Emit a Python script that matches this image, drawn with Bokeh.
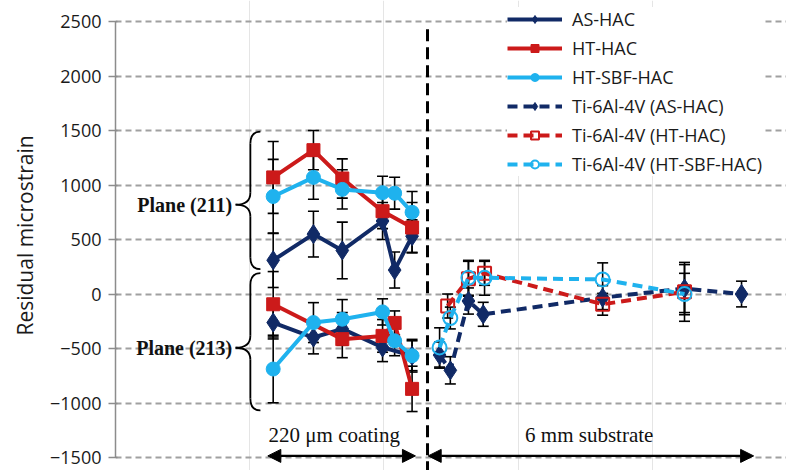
from bokeh.plotting import figure
from bokeh.models import (Range1d, FixedTicker, Whisker, ColumnDataSource, TeeHead,
                          Legend, LegendItem, Arrow, NormalHead, Label)
from bokeh.embed import file_html
from bokeh.resources import INLINE

NAVY = "#112a66"
RED = "#cc1a1a"
SKY = "#1fb2ee"

# ---- coating (plane 211) -------------------------------------------------
as211_x = [23.5, 29.5, 33.8, 39.8, 41.6, 44.2]
as211_y = [310, 550, 400, 670, 220, 530]
as211_e = [250, 210, 260, 170, 165, 150]

ht211_x = [23.5, 29.5, 33.8, 39.8, 44.2]
ht211_y = [1070, 1320, 1060, 760, 610]
ht211_e = [330, 180, 180, 160, 230]

sbf211_x = [23.5, 29.5, 33.8, 39.8, 41.6, 44.2]
sbf211_y = [895, 1070, 960, 930, 925, 750]
sbf211_e = [340, 200, 180, 150, 146, 190]

# ---- coating (plane 213) -------------------------------------------------
as213_x = [23.5, 29.5, 33.8, 39.8, 44.2]
as213_y = [-262, -399, -320, -490, -566]
as213_e = [150, 150, 150, 130, 150]

ht213_x = [23.5, 33.8, 39.8, 41.6, 44.2]
ht213_y = [-94, -414, -384, -265, -870]
ht213_e = [300, 170, 150, 110, 208]

sbf213_x = [23.5, 29.5, 33.8, 39.8, 41.6, 44.2]
sbf213_y = [-688, -262, -231, -164, -429, -566]
sbf213_e = [310, 183, 180, 120, 137, 137]

# ---- Ti-6Al-4V substrate -------------------------------------------------
as_ti_x = [48.3, 49.9, 52.6, 54.8, 72.6, 84.8, 93.3]
as_ti_y = [-560, -700, -64, -186, -33, 50, 0]
as_ti_e = [120, 125, 120, 110, 110, 220, 118]

ht_ti_x = [49.5, 52.6, 55.0, 72.6, 84.8]
ht_ti_y = [-110, 140, 190, -94, 20]
ht_ti_e = [110, 160, 110, 100, 270]

sbf_ti_x = [48.3, 49.9, 52.6, 55.0, 72.6, 84.8]
sbf_ti_y = [-490, -220, 149, 149, 134, 0]
sbf_ti_e = [180, 100, 160, 160, 152, 190]

y_ticks = [-1500, -1000, -500, 0, 500, 1000, 1500, 2000, 2500]

labels = ["AS-HAC", "HT-HAC", "HT-SBF-HAC",
          "Ti-6Al-4V (AS-HAC)", "Ti-6Al-4V (HT-HAC)", "Ti-6Al-4V (HT-SBF-HAC)"]

SANS = "Open Sans"
SERIF = "Liberation Serif"

p = figure(width=786, height=470, output_backend="svg", toolbar_location=None,
           x_range=Range1d(0, 100), y_range=Range1d(-1619, 2693),
           x_axis_location=None, min_border_left=115, min_border_right=0,
           min_border_top=0, min_border_bottom=0)
p.outline_line_color = None
p.background_fill_color = "white"

yax = p.yaxis[0]
yax.ticker = FixedTicker(ticks=y_ticks)
yax.bounds = (-1500, 2500)
yax.axis_line_color = "#8c8c8c"
yax.axis_line_width = 1.5
yax.major_tick_line_color = "#8c8c8c"
yax.major_tick_line_width = 1.5
yax.major_tick_out = 7
yax.major_tick_in = 2
yax.minor_tick_line_color = None
yax.major_label_standoff = 7
yax.major_label_text_font = SANS
yax.major_label_text_font_size = "18px"
yax.major_label_text_color = "#1a1a1a"
yax.axis_label = "Residual microstrain"
yax.axis_label_text_font = SANS
yax.axis_label_text_font_size = "21px"
yax.axis_label_text_font_style = "normal"
yax.axis_label_text_color = "#1a1a1a"
yax.axis_label_standoff = 8

p.ygrid.grid_line_color = "#a0a0a0"
p.ygrid.grid_line_width = 1.8
p.ygrid.grid_line_dash = "6 4"


def errbars(xs, ys, es):
    src = ColumnDataSource(dict(x=xs, up=[y + e for y, e in zip(ys, es)],
                                lo=[y - e for y, e in zip(ys, es)]))
    w = Whisker(base="x", upper="up", lower="lo", source=src, dimension="height",
                line_color="black", line_width=1.6,
                upper_head=TeeHead(size=11, line_width=1.6, line_color="black"),
                lower_head=TeeHead(size=11, line_width=1.6, line_color="black"))
    p.add_layout(w)


def series(xs, ys, es, color, marker, size, dash="solid", hollow=False):
    errbars(xs, ys, es)
    ln = p.line(xs, ys, line_color=color, line_width=4, line_dash=dash)
    if hollow:
        mk = p.scatter(xs, ys, marker=marker, size=size, line_color=color,
                       line_width=2, fill_alpha=0)
    else:
        mk = p.scatter(xs, ys, marker=marker, size=size, line_color=color,
                       fill_color=color)
    return [ln, mk]


r_as = series(as211_x, as211_y, as211_e, NAVY, "diamond", 19)
series(as213_x, as213_y, as213_e, NAVY, "diamond", 19)
r_ht = series(ht211_x, ht211_y, ht211_e, RED, "square", 13)
series(ht213_x, ht213_y, ht213_e, RED, "square", 13)
r_sbf = series(sbf211_x, sbf211_y, sbf211_e, SKY, "circle", 14)
series(sbf213_x, sbf213_y, sbf213_e, SKY, "circle", 14)

DASH = "10 6"
r_as_ti = series(as_ti_x, as_ti_y, as_ti_e, NAVY, "diamond", 19, DASH)
r_ht_ti = series(ht_ti_x, ht_ti_y, ht_ti_e, RED, "square", 13, DASH, hollow=True)
r_sbf_ti = series(sbf_ti_x, sbf_ti_y, sbf_ti_e, SKY, "circle", 14, DASH, hollow=True)

# coating / substrate boundary
p.segment(x0=[46.5], y0=[2430], x1=[46.5], y1=[-1619], line_color="black",
          line_width=3, line_dash="12 6")


# curly braces grouping the two diffraction planes
def brace(x_end, x_spine, x_tip, y_top, y_mid, y_bot, curl):
    p.quadratic(x0=[x_end, x_spine, x_tip, x_spine],
                y0=[y_top, y_mid + curl, y_mid, y_bot + curl],
                x1=[x_spine, x_tip, x_spine, x_end],
                y1=[y_top - curl, y_mid, y_mid - curl, y_bot],
                cx=[x_spine, x_spine, x_spine, x_spine],
                cy=[y_top, y_mid, y_mid, y_bot],
                line_color="black", line_width=1.8)
    p.segment(x0=[x_spine, x_spine], y0=[y_top - curl, y_mid - curl],
              x1=[x_spine, x_spine], y1=[y_mid + curl, y_bot + curl],
              line_color="black", line_width=1.8)


brace(21.6, 20.1, 17.9, 1490, 820, 228, 110)
brace(21.6, 20.1, 17.9, 192, -493, -1068, 110)

for txt, yy in [("Plane (211)", 820), ("Plane (213)", -493)]:
    p.add_layout(Label(x=17.4, y=yy, text=txt, text_align="right",
                       text_baseline="middle", text_font=SERIF,
                       text_font_style="bold", text_font_size="20px",
                       text_color="#111111"))

# extent arrows for coating and substrate
for xa, xb in [(22.7, 44.7), (46.6, 95.1)]:
    p.add_layout(Arrow(x_start=xa, y_start=-1485, x_end=xb, y_end=-1485,
                       line_color="black", line_width=2.2,
                       start=NormalHead(size=13, fill_color="black", line_color="black"),
                       end=NormalHead(size=13, fill_color="black", line_color="black")))

for txt, xx in [("220 \u03bcm coating", 32.6), ("6 mm substrate", 70.6)]:
    p.add_layout(Label(x=xx, y=-1290, text=txt, text_align="center",
                       text_baseline="middle", text_font=SERIF,
                       text_font_size="21px", text_color="#111111"))

legend = Legend(items=[LegendItem(label=lab, renderers=rs) for lab, rs in
                       zip(labels, [r_as, r_ht, r_sbf, r_as_ti, r_ht_ti, r_sbf_ti])],
                location=(392, 294), orientation="vertical",
                background_fill_color="white", background_fill_alpha=1.0,
                border_line_color=None, padding=5, spacing=5, margin=0,
                glyph_width=55, glyph_height=20, label_height=20,
                label_standoff=10, label_text_font=SANS,
                label_text_font_size="18px", label_text_color="#1a1a1a")
p.add_layout(legend, "center")

open("out.html", "w").write(file_html(p, INLINE))
